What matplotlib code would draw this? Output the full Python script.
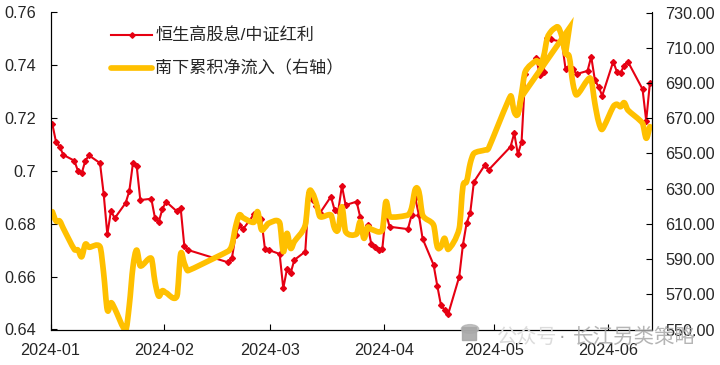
import numpy as np
import pandas as pd
import matplotlib.dates as mdates
import matplotlib.pyplot as plt
from matplotlib.lines import Line2D
from matplotlib.patches import Circle, PathPatch, Rectangle
from matplotlib.path import Path

plt.rcParams['font.family'] = ['Liberation Sans', 'Noto Sans CJK SC']

# Data

red_days = ['01-02', '01-03', '01-04', '01-05', '01-08', '01-09', '01-10', '01-11', '01-12',
            '01-15', '01-16', '01-17', '01-18', '01-19', '01-22', '01-23', '01-24', '01-25', '01-26',
            '01-29', '01-30', '01-31', '02-01', '02-02', '02-05', '02-06', '02-07', '02-08',
            '02-19', '02-20', '02-21', '02-22', '02-23', '02-26', '02-27', '02-28', '02-29', '03-01',
            '03-04', '03-05', '03-06', '03-07', '03-08', '03-11', '03-12', '03-13', '03-14', '03-15',
            '03-18', '03-19', '03-20', '03-21', '03-22', '03-25', '03-26', '03-27', '03-28', '03-29',
            '03-30', '03-31', '04-01', '04-02', '04-03', '04-08', '04-09', '04-10', '04-11', '04-12',
            '04-15', '04-16', '04-17', '04-18', '04-19', '04-22', '04-23', '04-24', '04-25', '04-26',
            '04-29', '04-30', '05-06', '05-07', '05-08', '05-09', '05-10', '05-13', '05-14', '05-15',
            '05-16', '05-17', '05-20', '05-21', '05-22', '05-23', '05-24', '05-27', '05-28', '05-29',
            '05-30', '05-31', '06-03', '06-04', '06-05', '06-06', '06-07', '06-11', '06-12', '06-13']
red_values = [.7178, .7110, .7092, .7061, .7039, .7000, .6991, .7039, .7059,
              .7030, .6914, .6760, .6850, .6821, .6879, .6924, .7031, .7020, .6890,
              .6895, .6822, .6806, .6855, .6884, .6847, .6861, .6716, .6701,
              .6654, .6671, .6758, .6796, .6779, .6836, .6815, .6818, .6705, .6701,
              .6686, .6556, .6628, .6613, .6663, .6695, .6917, .6890, .6867, .6841,
              .6903, .6852, .6850, .6944, .6871, .6884, .6825, .6765, .6796, .6724,
              .6711, .6701, .6704, .6841, .6789, .6780, .6833, .6898, .6833, .6744,
              .6645, .6566, .6493, .6474, .6459, .6600, .6720, .6802, .6842, .6959,
              .7023, .7004, .7092, .7143, .7063, .7110, .7367, .7427, .7363, .7376,
              .7502, .7498, .7489, .7386, .7395, .7386, .7367, .7379, .7433, .7344,
              .7319, .7285, .7414, .7376, .7372, .7399, .7414, .7310, .7190, .7332]

flow_days = ['01-02', '01-03', '01-04', '01-05', '01-08', '01-09', '01-10', '01-11', '01-12',
             '01-15', '01-16', '01-17', '01-18', '01-19', '01-22', '01-23', '01-24', '01-25', '01-26',
             '01-29', '01-30', '01-31', '02-01', '02-02', '02-05', '02-06', '02-07', '02-08',
             '02-19', '02-20', '02-21', '02-22', '02-23', '02-26', '02-27', '02-28', '02-29', '03-01',
             '03-04', '03-05', '03-06', '03-07', '03-08', '03-11', '03-12', '03-13', '03-14', '03-15',
             '03-18', '03-19', '03-20', '03-21', '03-22', '03-25', '03-26', '03-27', '03-28', '03-29',
             '04-01', '04-02', '04-03', '04-08', '04-09', '04-10', '04-11', '04-12',
             '04-15', '04-16', '04-17', '04-18', '04-19', '04-22', '04-23', '04-24', '04-25', '04-26',
             '04-29', '04-30', '05-06', '05-07', '05-08', '05-09', '05-10', '05-13', '05-14', '05-15',
             '05-16', '05-17', '05-18', '05-19', '05-20', '05-21', '05-22', '05-23', '05-24', '05-27',
             '05-28', '05-29', '05-30', '05-31', '06-03', '06-04', '06-05', '06-06', '06-07',
             '06-11', '06-12', '06-13']
flow_values = [616.9, 611.6, 611.6, 607.4, 595.5, 595.1, 591.3, 598.4, 596.7,
               597.0, 581.9, 561.1, 565.2, 562.0, 549.7, 563.9, 585.7, 595.1, 586.1,
               590.4, 577.1, 569.0, 572.0, 570.9, 569.0, 592.9, 587.6, 583.4,
               594.5, 598.0, 608.4, 615.0, 613.5, 610.9, 616.9, 606.9, 608.0, 610.3,
               610.7, 594.2, 604.6, 596.1, 599.9, 609.3, 627.7, 627.3, 621.7, 614.1,
               615.0, 607.4, 606.9, 619.7, 605.6, 604.2, 611.2, 601.8, 608.0, 606.9,
               606.5, 622.6, 614.1, 615.0, 619.0, 629.6, 628.2, 615.0,
               609.3, 597.0, 597.0, 601.8, 595.5, 607.4, 631.1, 634.0, 644.4, 650.0,
               651.9, 652.9, 682.6, 673.7, 672.4, 684.1, 696.4, 702.6, 701.1, 704.9,
               715.3, 719.1, 721.0, 721.6, 716.3, 706.8, 704.9, 689.8, 683.2, 691.7,
               691.7, 678.4, 668.0, 663.7, 676.5, 677.9, 676.5, 678.8, 674.6,
               667.1, 658.6, 665.2]

# the second yellow stroke across May
flow_extra_days = ['05-08', '05-09', '05-22', '05-21']
flow_extra_values = [672.4, 682.2, 721.0, 706.8]

left_ticks = [0.64, 0.66, 0.68, 0.70, 0.72, 0.74, 0.76]
left_labels = ['0.64', '0.66', '0.68', '0.7', '0.72', '0.74', '0.76']
right_ticks = [550, 570, 590, 610, 630, 650, 670, 690, 710, 730]
month_ticks = ['2024-01-02', '2024-02-02', '2024-03-02', '2024-04-02', '2024-05-02', '2024-06-02']
month_labels = ['2024-01', '2024-02', '2024-03', '2024-04', '2024-05', '2024-06']


def to_dates(days):
    return pd.to_datetime(['2024-' + d for d in days])


def smooth_path(days, values):
    # same knots, drawn as bezier curves like a smoothed office chart line
    x = mdates.date2num(to_dates(days))
    y = np.array(values)
    verts = [(x[0], y[0])]
    codes = [Path.MOVETO]
    for i in range(len(x) - 1):
        p0 = i - 1 if i > 0 else i
        p3 = i + 2 if i + 2 < len(x) else i + 1
        h = x[i + 1] - x[i]
        t1 = (y[i + 1] - y[p0]) / (x[i + 1] - x[p0])
        t2 = (y[p3] - y[i]) / (x[p3] - x[i])
        # keep long flat gaps from overshooting
        k = min(h, 2.0) / 3
        verts += [(x[i] + k, y[i] + t1 * k), (x[i + 1] - k, y[i + 1] - t2 * k), (x[i + 1], y[i + 1])]
        codes += [Path.CURVE4, Path.CURVE4, Path.CURVE4]
    return Path(verts, codes)


half_day = pd.Timedelta(hours=12)
ink = '#262626'
red = '#E60012'
gold = '#FFC000'

# Plot

fig = plt.figure(figsize=(7.2, 3.65), dpi=100)
ax = fig.add_axes([50.5 / 720, 1 - 329.5 / 365, 601.2 / 720, 317 / 365])
ax2 = ax.twinx()

ax.plot(to_dates(red_days), red_values, color=red, lw=1.5, marker='D', ms=3)

ax2.add_patch(PathPatch(smooth_path(flow_days, flow_values), fill=False, edgecolor=gold, lw=4.1,
                        joinstyle='round', capstyle='round'))
ax2.plot(to_dates(flow_extra_days), flow_extra_values, color=gold, lw=4.1,
         solid_joinstyle='miter', solid_capstyle='round')

ax.set_ylim(0.64, 0.76)
ax2.set_ylim(550, 730)
ax.set_xlim(pd.Timestamp('2024-01-02') - half_day, pd.Timestamp('2024-06-13') + half_day)

ax.set_yticks(left_ticks)
ax.set_yticklabels(left_labels)
ax2.set_yticks(right_ticks)
ax2.set_yticklabels(['%.2f' % v for v in right_ticks])
ax.set_xticks(pd.to_datetime(month_ticks) - half_day)
ax.set_xticklabels(month_labels)

ax.tick_params(axis='y', direction='in', length=4, width=0.8, labelsize=11.7, pad=10.5, labelcolor=ink)
ax2.tick_params(axis='y', direction='in', length=4, width=0.8, labelsize=11.7, pad=9.5, labelcolor=ink)
ax.tick_params(axis='x', direction='in', length=4, width=0.8, labelsize=11.7, pad=9.5, labelcolor=ink)

ax.spines['top'].set_visible(False)
ax2.spines['top'].set_visible(False)
for sp in ax2.spines.values():
    sp.set_linewidth(0.8)

handles = [Line2D([], [], color=red, lw=1.5, marker='D', ms=2.8),
           Line2D([], [], color=gold, lw=4.1, solid_capstyle='round')]
names = ['恒生高股息/中证红利', '南下累积净流入（右轴）']
fig.legend(handles, names, loc='upper left', bbox_to_anchor=(111 / 720, 1 - 27.5 / 365),
           frameon=False, fontsize=12.3, handlelength=2.4, handletextpad=0.2, labelspacing=0.98,
           borderpad=0, borderaxespad=0, labelcolor=ink)

# Watermark
fig.add_artist(Circle((470 / 720, 1 - 329 / 365), 0.012, transform=fig.transFigure, color='#b4b4b4', alpha=0.8))
fig.add_artist(Rectangle((462 / 720, 1 - 340 / 365), 14 / 720, 13 / 365, transform=fig.transFigure,
                         color='#a8a8a8', alpha=0.9))
fig.text(497 / 720, 1 - 337 / 365, '公众号', fontsize=14.5, color='#dcdcdc', va='center', ha='left')
fig.text(559 / 720, 1 - 337 / 365, '·', fontsize=14.5, color='#a0a0a0', va='center', ha='left')
fig.text(573 / 720, 1 - 337 / 365, '长江另类策略', fontsize=14.8, color='#a8a8a8', alpha=0.85, va='center', ha='left')

fig.savefig('out.png', dpi=100)
